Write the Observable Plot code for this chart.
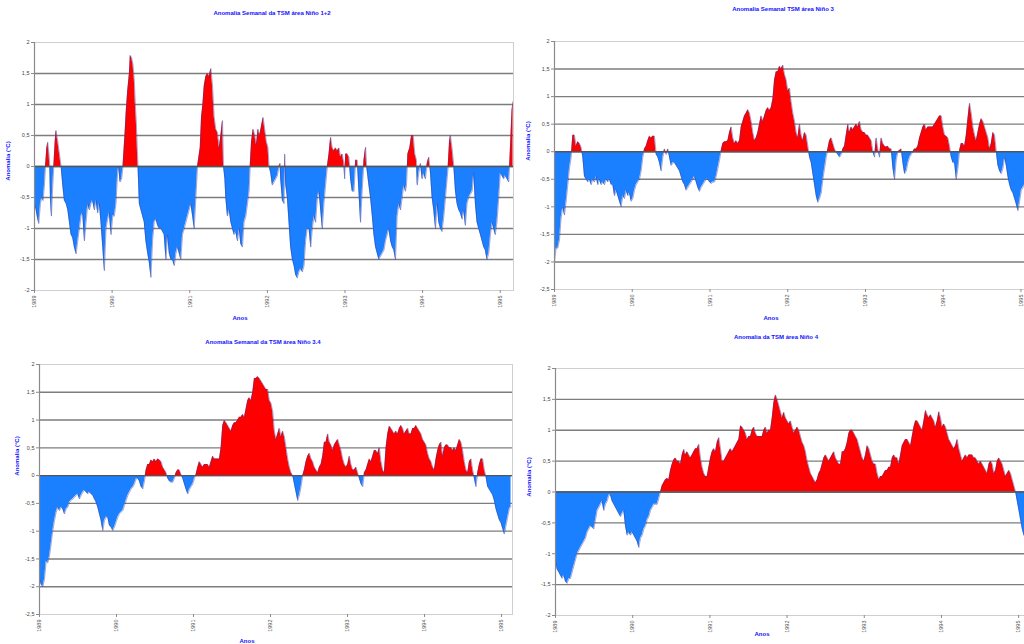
<!DOCTYPE html>
<html><head><meta charset="utf-8">
<script src="https://cdn.jsdelivr.net/npm/d3@7"></script>
<script src="https://cdn.jsdelivr.net/npm/@observablehq/plot@0.6"></script>
<style>
html,body{margin:0;padding:0;background:#fff;}
#wrap{position:relative;width:1024px;height:644px;overflow:hidden;background:#fff;font-family:"Liberation Sans",Arial,sans-serif;}
.pl{position:absolute;}
.t{position:absolute;white-space:nowrap;color:#1010ff;font-weight:bold;font-size:6px;transform:translate(-50%,-50%);}
.r{transform:translate(-50%,-50%) rotate(-90deg);}
</style></head><body><div id="wrap"></div>
<script>
// ---- dados (semanas desde o início, anomalia °C) ----
const anos = ["1989","1990","1991","1992","1993","1994","1995"];
const ticksY45 = [-2.5,-2,-1.5,-1,-0.5,0,0.5,1,1.5,2];
const ticksY4 = [-2,-1.5,-1,-0.5,0,0.5,1,1.5,2];

// Niño 1+2 : pares [semana, anomalia]
const nino12 = [[0,-0.6],[1.1,-0.7],[2.2,-0.85],[2.9,-0.92],[4.0,-0.6],[4.9,-0.5],[5.8,-0.55],[6.7,-0.3],[7.4,0],[8.3,0.3],[8.9,0.39],[9.8,0.2],[10.3,0],[10.7,-0.5],[11.4,-0.8],[12.3,-0.3],[13.0,0],[13.9,0.4],[14.5,0.58],[15.7,0.4],[16.8,0.2],[17.9,0],[19.0,-0.3],[20.1,-0.55],[21.3,-0.6],[22.4,-0.7],[23.5,-0.9],[24.6,-1.1],[25.7,-1.15],[26.8,-1.3],[28.0,-1.41],[29.1,-1.2],[30.2,-1.0],[31.3,-0.8],[32.4,-0.75],[33.6,-1.2],[34.7,-0.9],[35.8,-0.6],[36.9,-0.7],[38.0,-0.6],[39.1,-0.55],[40.3,-0.7],[41.4,-0.55],[42.5,-0.75],[43.6,-0.6],[44.7,-0.9],[45.9,-1.3],[47.0,-1.68],[48.1,-1.0],[49.2,-0.85],[50.3,-0.75],[51.5,-1.1],[52.6,-0.8],[53.7,-0.8],[54.8,-0.6],[55.9,-0.1],[56.6,0],[57.5,-0.25],[58.6,-0.2],[59.5,0],[60.0,0.2],[60.8,0.5],[61.7,0.9],[62.6,1.2],[63.8,1.5],[64.4,1.79],[65.3,1.75],[66.2,1.65],[67.1,1.4],[67.8,1.0],[68.5,0.7],[69.1,0.3],[69.6,0],[70.5,-0.6],[71.6,-0.7],[72.7,-0.8],[73.8,-0.9],[74.9,-1.2],[76.1,-1.4],[77.2,-1.55],[78.3,-1.79],[79.4,-1.2],[80.5,-0.9],[81.7,-0.85],[82.8,-0.95],[83.9,-1.0],[85.0,-1.0],[86.1,-1.05],[87.2,-1.1],[88.4,-1.5],[89.5,-1.1],[90.6,-1.4],[91.7,-1.5],[92.8,-1.5],[94.0,-1.6],[95.1,-1.4],[96.2,-1.3],[97.3,-1.4],[98.4,-1.5],[99.5,-1.1],[100.7,-1.0],[101.8,-0.9],[102.9,-0.8],[104.0,-0.7],[105.1,-0.6],[106.3,-0.8],[107.4,-1.0],[108.5,-0.5],[109.6,0],[111.4,0.3],[112.3,0.8],[113.2,1.0],[114.1,1.3],[115.2,1.45],[116.3,1.5],[117.4,1.45],[118.6,1.58],[119.7,1.3],[120.8,0.8],[121.9,0.6],[123.0,0.55],[124.2,0.3],[125.3,0.5],[126.4,0.74],[127.1,0],[128.0,-0.2],[128.6,-0.5],[129.7,-0.8],[130.9,-0.7],[132.0,-0.9],[133.1,-1.0],[134.2,-1.1],[135.3,-1.05],[136.5,-1.2],[137.6,-1.0],[138.7,-1.25],[139.8,-1.3],[140.9,-0.9],[142.1,-0.8],[143.2,-0.6],[144.3,-0.4],[145.0,0],[145.9,0.4],[147.0,0.6],[148.1,0.5],[149.2,0.35],[150.3,0.6],[151.4,0.5],[152.6,0.65],[153.7,0.79],[154.8,0.6],[155.9,0.4],[157.0,0.3],[157.7,0],[158.8,-0.1],[159.9,-0.3],[161.1,-0.25],[162.2,-0.2],[163.3,-0.15],[164.4,0],[165.1,0.05],[165.5,-0.2],[166.7,-0.55],[167.8,-0.6],[168.2,0.2],[168.9,-0.3],[170.0,-0.5],[171.1,-0.9],[172.2,-1.3],[173.4,-1.5],[174.5,-1.6],[175.6,-1.75],[176.7,-1.8],[177.8,-1.7],[179.0,-1.65],[180.1,-1.7],[181.2,-1.6],[182.3,-1.2],[183.4,-1.0],[184.6,-1.0],[185.7,-1.3],[186.8,-1.0],[187.9,-0.8],[189.0,-0.9],[190.2,-0.5],[191.3,-0.4],[192.4,-0.7],[193.5,-1.0],[194.6,-0.6],[195.7,-0.3],[196.9,0],[198.0,0.2],[199.1,0.47],[200.2,0.3],[201.3,0.25],[202.4,0.3],[203.6,0.25],[204.7,0.3],[205.8,0.15],[206.9,0.2],[208.0,0.05],[208.5,-0.2],[209.2,0.2],[210.3,0.2],[211.4,0.15],[212.5,-0.2],[213.6,-0.4],[214.8,-0.4],[215.9,0.1],[217.0,0.1],[218.1,-0.4],[219.2,-0.9],[220.3,-0.4],[221.5,0.1],[222.6,0.31],[223.3,0],[224.8,-0.3],[225.9,-0.5],[227.1,-0.8],[228.2,-1.1],[229.3,-1.3],[230.4,-1.4],[231.5,-1.5],[232.6,-1.45],[233.8,-1.4],[234.9,-1.35],[236.0,-1.2],[237.1,-1.1],[238.2,-1.0],[239.4,-1.2],[240.5,-1.3],[241.6,-1.35],[242.7,-1.5],[243.8,-0.8],[245.0,-0.6],[246.1,-0.7],[247.2,-0.5],[248.3,-0.3],[249.4,-0.4],[250.1,-0.3],[251.0,0.2],[252.3,0.3],[253.5,0.5],[254.6,0.5],[255.7,0.2],[256.8,0.1],[257.3,-0.3],[258.4,-0.1],[259.5,0.05],[260.6,-0.2],[261.7,-0.1],[262.8,-0.2],[264.0,0.05],[265.1,0.15],[266.2,-0.1],[267.3,-0.5],[268.4,-0.7],[269.6,-1.0],[270.7,-0.6],[271.8,-0.9],[272.9,-1.0],[274.0,-1.05],[275.2,-0.8],[276.3,-0.5],[277.4,-0.2],[278.1,0],[279.0,0.4],[279.6,0.5],[280.7,0.3],[281.9,0],[283.0,-0.4],[284.1,-0.6],[285.2,-0.7],[286.3,-0.75],[287.5,-0.85],[288.6,-0.7],[289.7,-0.95],[290.8,-0.6],[291.9,-0.5],[293.0,-0.45],[294.2,-0.4],[295.3,-0.1],[296.4,-0.6],[297.5,-0.9],[298.6,-1.0],[299.8,-1.1],[300.9,-1.2],[302.0,-1.3],[303.1,-1.35],[304.2,-1.5],[305.4,-1.4],[306.5,-1.1],[307.6,-0.9],[308.7,-1.0],[309.8,-1.1],[310.9,-0.9],[312.1,-0.5],[313.2,-0.1],[314.3,-0.15],[315.4,-0.2],[316.5,-0.15],[317.7,-0.2],[318.8,-0.25],[319.4,0],[320.3,0.5],[321.0,0.9],[321.7,1.05]];

// Niño 3, 3.4 e 4 : uma leitura a cada ~1,12 semana
const nino3 = [-2.0,-1.75,-1.75,-1.6,-1.2,-1.0,-1.15,-0.9,-0.6,-0.3,-0.1,0.3,0.3,0.1,0.18,0.15,0.08,-0.1,-0.45,-0.5,-0.55,-0.5,-0.6,-0.5,-0.55,-0.45,-0.6,-0.5,-0.6,-0.55,-0.6,-0.5,-0.55,-0.5,-0.6,-0.6,-0.8,-0.7,-0.8,-0.9,-1.0,-0.8,-0.85,-0.7,-0.8,-0.75,-0.9,-0.85,-0.7,-0.6,-0.55,-0.5,-0.35,-0.1,0.05,0.1,0.2,0.28,0.25,0.28,0.28,-0.05,-0.1,-0.2,-0.35,-0.1,0.05,-0.05,0.05,-0.1,-0.25,-0.2,-0.2,-0.25,-0.3,-0.35,-0.45,-0.55,-0.6,-0.7,-0.65,-0.6,-0.55,-0.5,-0.45,-0.55,-0.65,-0.72,-0.65,-0.6,-0.55,-0.5,-0.5,-0.55,-0.58,-0.55,-0.55,-0.45,-0.3,-0.15,0.02,0.15,0.18,0.18,0.2,0.35,0.45,0.25,0.15,0.2,0.15,0.2,0.45,0.55,0.65,0.7,0.76,0.7,0.55,0.35,0.2,0.25,0.35,0.5,0.65,0.55,0.65,0.75,0.8,0.75,0.8,0.95,1.3,1.45,1.45,1.55,1.5,1.57,1.4,1.3,1.1,1.15,0.9,0.7,0.55,0.35,0.25,0.5,0.3,0.2,0.35,0.3,0.1,-0.1,-0.2,-0.4,-0.6,-0.8,-0.92,-0.85,-0.75,-0.5,-0.3,-0.1,0.05,0.2,0.25,0.15,0.05,-0.02,-0.05,-0.1,-0.05,0.05,0.1,0.3,0.5,0.35,0.45,0.4,0.45,0.5,0.45,0.55,0.4,0.35,0.35,0.3,0.3,0.25,0.2,0.0,-0.1,0.25,0.05,-0.1,0.25,0.15,0.1,0.08,0.1,0.05,0.05,-0.3,-0.5,-0.15,0,0.02,0.05,-0.2,-0.4,-0.35,-0.2,-0.1,-0.05,0,0.05,0.05,0.1,0.25,0.35,0.45,0.5,0.4,0.45,0.45,0.45,0.45,0.5,0.55,0.6,0.65,0.65,0.45,0.3,0.28,0.25,0.1,-0.1,-0.2,-0.2,-0.5,-0.3,0.02,0.15,0.15,0.1,0.3,0.6,0.88,0.7,0.45,0.3,0.2,0.35,0.5,0.6,0.55,0.45,0.35,0.25,0.05,0.15,0.35,0.3,0.0,-0.25,-0.35,-0.4,-0.3,-0.1,-0.25,-0.45,-0.6,-0.7,-0.75,-0.85,-0.95,-1.07,-0.9,-0.7,-0.65,-0.6,-0.55];

const nino34 = [-1.84,-1.96,-2.0,-1.87,-1.54,-1.57,-1.45,-1.23,-0.99,-0.81,-0.66,-0.57,-0.63,-0.57,-0.6,-0.69,-0.6,-0.57,-0.48,-0.45,-0.42,-0.39,-0.36,-0.33,-0.42,-0.36,-0.3,-0.27,-0.3,-0.33,-0.3,-0.33,-0.36,-0.42,-0.48,-0.57,-0.69,-0.81,-0.99,-0.81,-0.75,-0.75,-0.9,-0.93,-0.99,-0.93,-0.84,-0.75,-0.69,-0.66,-0.63,-0.54,-0.45,-0.36,-0.3,-0.24,-0.21,-0.15,-0.06,-0.05,-0.1,-0.2,-0.24,-0.1,0.1,0.2,0.2,0.28,0.25,0.3,0.25,0.3,0.28,0.25,0.15,0.1,0.05,-0.05,-0.1,-0.12,-0.12,-0.05,0.05,0.1,0.1,0.02,-0.05,-0.15,-0.25,-0.33,-0.25,-0.2,-0.15,-0.05,0.02,0.15,0.25,0.2,0.15,0.2,0.2,0.2,0.15,0.25,0.35,0.3,0.3,0.3,0.3,0.5,0.9,0.99,0.95,0.9,0.85,0.8,0.9,0.95,0.95,1.0,1.05,1.05,1.1,1.05,1.2,1.35,1.4,1.35,1.5,1.75,1.75,1.78,1.75,1.7,1.65,1.6,1.55,1.55,1.35,1.3,1.15,0.8,0.65,0.75,0.85,0.7,0.8,0.7,0.5,0.3,0.15,0.05,0.0,-0.15,-0.3,-0.45,-0.35,-0.2,0.0,0.1,0.25,0.35,0.4,0.3,0.25,0.15,0.1,0.05,0.15,0.2,0.35,0.6,0.6,0.75,0.6,0.55,0.45,0.55,0.6,0.65,0.55,0.45,0.3,0.2,0.15,0.2,0.35,0.2,0.1,0.1,0.15,0.05,-0.05,-0.15,-0.2,0.05,0.1,0.2,0.3,0.25,0.35,0.45,0.45,0.4,0.5,0.25,0.1,0.05,0.5,0.75,0.89,0.85,0.8,0.75,0.8,0.75,0.85,0.9,0.85,0.75,0.8,0.85,0.75,0.75,0.85,0.85,0.9,0.85,0.8,0.75,0.65,0.6,0.55,0.4,0.3,0.25,0.15,0.1,0.3,0.45,0.55,0.6,0.35,0.5,0.55,0.55,0.5,0.5,0.45,0.5,0.45,0.55,0.65,0.6,0.45,0.25,0.1,0.05,0.25,0.3,0.1,-0.05,-0.2,0.05,0.2,0.3,0.3,0.1,-0.02,-0.2,-0.25,-0.3,-0.35,-0.45,-0.6,-0.7,-0.8,-0.85,-0.95,-1.05,-0.9,-0.75,-0.6,-0.55];

const nino4 = [-1.1,-1.25,-1.3,-1.35,-1.4,-1.35,-1.45,-1.48,-1.4,-1.4,-1.3,-1.2,-1.1,-1.0,-0.95,-0.9,-0.85,-0.8,-0.75,-0.65,-0.6,-0.55,-0.57,-0.6,-0.45,-0.3,-0.25,-0.2,-0.15,-0.3,-0.2,-0.15,-0.05,-0.05,-0.15,-0.2,-0.25,-0.3,-0.35,-0.4,-0.35,-0.3,-0.55,-0.7,-0.65,-0.7,-0.65,-0.7,-0.75,-0.8,-0.9,-0.75,-0.7,-0.6,-0.55,-0.45,-0.4,-0.3,-0.25,-0.2,-0.2,-0.2,-0.1,0.0,0.1,0.15,0.2,0.22,0.2,0.35,0.45,0.52,0.55,0.5,0.5,0.45,0.6,0.69,0.6,0.65,0.6,0.55,0.6,0.65,0.7,0.7,0.77,0.55,0.4,0.3,0.25,0.25,0.4,0.55,0.65,0.7,0.65,0.8,0.88,0.7,0.5,0.5,0.55,0.6,0.65,0.7,0.65,0.7,0.75,0.8,0.85,1.07,1.05,1.0,0.95,0.85,0.9,0.9,1.0,1.05,0.95,0.9,0.9,0.9,0.9,1.0,1.05,0.95,1.0,1.0,1.2,1.45,1.57,1.5,1.4,1.3,1.2,1.29,1.2,1.15,1.1,1.15,1.05,0.95,1.0,1.05,1.0,0.9,0.8,0.75,0.65,0.5,0.4,0.3,0.25,0.2,0.15,0.2,0.3,0.35,0.45,0.55,0.6,0.55,0.5,0.55,0.6,0.65,0.55,0.5,0.45,0.45,0.65,0.65,0.7,0.8,0.95,1.0,1.0,0.95,0.9,0.85,0.75,0.65,0.55,0.5,0.6,0.75,0.7,0.6,0.5,0.45,0.45,0.3,0.2,0.25,0.25,0.3,0.35,0.35,0.4,0.4,0.55,0.6,0.55,0.55,0.45,0.6,0.75,0.8,0.85,0.85,0.8,0.75,0.9,1.05,1.15,1.15,1.1,1.05,1.0,1.15,1.32,1.25,1.2,1.25,1.2,1.15,1.05,1.15,1.3,1.2,1.05,1.1,1.05,0.95,0.85,0.8,0.75,0.7,0.75,0.85,0.7,0.6,0.5,0.55,0.6,0.55,0.6,0.6,0.6,0.55,0.55,0.5,0.45,0.5,0.45,0.4,0.35,0.3,0.45,0.5,0.45,0.3,0.35,0.5,0.55,0.5,0.45,0.35,0.25,0.3,0.35,0.3,0.2,0.1,0.0,-0.15,-0.3,-0.45,-0.6,-0.7,-0.75];

const SEM_ANO = 52.18;
const VERMELHO = "#ff0000", AZUL = "#1a80ff";

// insere o ponto de cruzamento do zero entre leituras de sinais opostos (só para o desenho)
function comCruzamentos(pts){
  const out = [];
  for (let i = 0; i < pts.length; i++){
    const p = pts[i];
    if (i > 0){
      const q = pts[i-1];
      if ((q.v > 0 && p.v < 0) || (q.v < 0 && p.v > 0)){
        const t = q.v / (q.v - p.v);
        out.push({w: q.w + t*(p.w - q.w), v: 0});
      }
    }
    out.push(p);
  }
  return out;
}

const fmtY = d => String(d).replace(".", ",");

function painel(o){
  const pts = comCruzamentos(o.dados);
  const grid = o.ticksY.filter(d => d !== o.dominioY[0] && d !== o.dominioY[1]);
  const xt = o.anos.map((a, i) => i * SEM_ANO);
  const fig = Plot.plot({
    width: o.width, height: o.height,
    marginLeft: o.ml, marginRight: o.mr, marginTop: o.mt, marginBottom: o.mb,
    style: {fontFamily: "Liberation Sans, Arial, sans-serif", fontSize: "6px", color: "#333", background: "transparent", overflow: "visible"},
    x: {domain: [0, o.dominioX], axis: null},
    y: {domain: o.dominioY, axis: null},
    marks: [
      Plot.frame({stroke: "#cfcfcf", strokeWidth: 1}),
      Plot.ruleY(grid, {stroke: "#7d7d7d", strokeWidth: 1.4}),
      Plot.areaY(pts, {x: "w", y: d => Math.max(0, d.v), fill: VERMELHO, curve: "linear", clip: true}),
      Plot.areaY(pts, {x: "w", y: d => Math.min(0, d.v), fill: AZUL, curve: "linear", clip: true}),
      Plot.line(pts, {x: "w", y: "v", stroke: "#3b3b9c", strokeWidth: 0.6, strokeOpacity: 0.75, clip: true}),
      Plot.ruleY([0], {stroke: "#555", strokeWidth: 1.4}),
      Plot.ruleX([0], {stroke: "#8a8a8a", strokeWidth: 1.2}),
      Plot.axisY({ticks: o.ticksY, tickFormat: fmtY, tickSize: 3, tickPadding: 2, stroke: "#8a8a8a", fill: "#444", fontSize: 5.5, label: null}),
      Plot.axisX({ticks: xt, tickFormat: d => o.anos[Math.round(d / SEM_ANO)], tickSize: 3, tickPadding: 2, tickRotate: -90, stroke: "#8a8a8a", fill: "#555", fontSize: 5.5, label: null})
    ]
  });
  fig.classList.add("pl");
  fig.style.left = o.left + "px";
  fig.style.top = o.top + "px";
  document.getElementById("wrap").appendChild(fig);
}

function texto(s, x, y, rot){
  const d = document.createElement("div");
  d.className = "t" + (rot ? " r" : "");
  d.textContent = s;
  d.style.left = x + "px"; d.style.top = y + "px";
  document.getElementById("wrap").appendChild(d);
}

const serie = (vals, passo) => vals.map((v, i) => ({w: i * passo, v}));

painel({dados: nino12.map(([w, v]) => ({w, v})), dominioX: 322, dominioY: [-2, 2], ticksY: ticksY4, anos,
  left: 0, top: 0, width: 520, height: 330, ml: 34, mr: 7, mt: 42, mb: 40});
painel({dados: serie(nino3, 1.119), dominioX: 321.5, dominioY: [-2.5, 2], ticksY: ticksY45, anos,
  left: 515, top: 0, width: 525, height: 330, ml: 39, mr: 7, mt: 41, mb: 41});
painel({dados: serie(nino34, 1.129), dominioX: 320.5, dominioY: [-2.5, 2], ticksY: ticksY45, anos,
  left: 0, top: 330, width: 520, height: 314, ml: 39, mr: 8, mt: 34, mb: 30});
painel({dados: serie(nino4, 1.127), dominioX: 323.8, dominioY: [-2, 2], ticksY: ticksY4, anos,
  left: 515, top: 330, width: 525, height: 314, ml: 40, mr: 6, mt: 38, mb: 29});

texto("Anomalia Semanal da TSM área Niño 1+2", 272, 13);
texto("Anomalia Semanal TSM área Niño 3", 783, 9);
texto("Anomalia Semanal da TSM área Niño 3.4", 263, 342);
texto("Anomalia da TSM área Niño 4", 776, 337);
texto("Anomalia (°C)", 8, 161, true);
texto("Anomalia (°C)", 528, 141, true);
texto("Anomalia (°C)", 17, 456, true);
texto("Anomalia (°C)", 529, 477, true);
texto("Anos", 240, 318);
texto("Anos", 771, 318);
texto("Anos", 247, 641);
texto("Anos", 762, 634);
</script></body></html>
